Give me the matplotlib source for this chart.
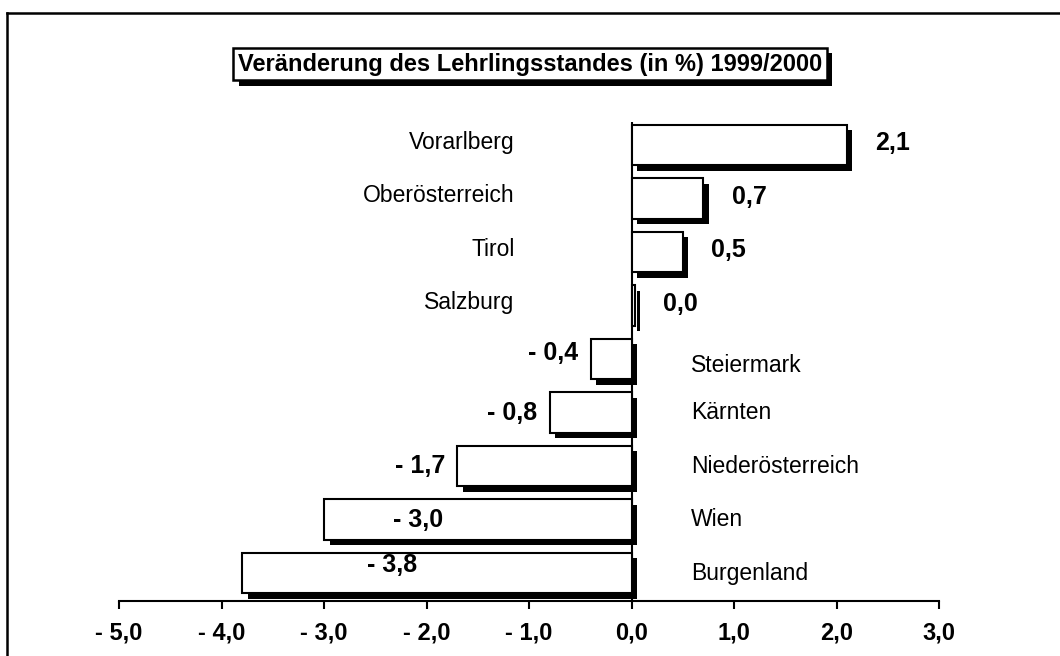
import matplotlib
matplotlib.use("Agg")
import matplotlib.pyplot as plt
import matplotlib.patheffects as pe
from matplotlib.lines import Line2D

# ---- data ----
regions = ["Vorarlberg", "Oberösterreich", "Tirol", "Salzburg", "Steiermark",
           "Kärnten", "Niederösterreich", "Wien", "Burgenland"]
values = [2.1, 0.7, 0.5, 0.03, -0.4, -0.8, -1.7, -3.0, -3.8]
value_labels = ["2,1", "0,7", "0,5", "0,0", "- 0,4", "- 0,8", "- 1,7", "- 3,0", "- 3,8"]
xticks = [-5, -4, -3, -2, -1, 0, 1, 2, 3]
xtick_labels = ["- 5,0", "- 4,0", "- 3,0", "- 2,0", "- 1,0", "0,0", "1,0", "2,0", "3,0"]
title = "Veränderung des Lehrlingsstandes (in %) 1999/2000"

plt.rcParams['font.family'] = ['Liberation Sans', 'DejaVu Sans']

fig = plt.figure(figsize=(10.6, 6.56), dpi=100)
ax = fig.add_axes([119/1060, 1 - 601/656, 820/1060, (601 - 122)/656])

n = len(regions)
ypos = [n - 1 - i for i in range(n)]

shadow = [pe.SimplePatchShadow(offset=(4, -4), shadow_rgbFace='black', alpha=1.0), pe.Normal()]
bars = ax.barh(ypos, values, height=0.76, color='white', edgecolor='black', linewidth=1.5, zorder=3)
for b in bars:
    b.set_path_effects(shadow)

ax.axvline(0, color='black', linewidth=1.5, zorder=2)

# inside-bar label right edges for long negative bars
inside_right = {"Wien": -1.84, "Burgenland": -2.09}
label_dy = {"Steiermark": 0.12, "Burgenland": 0.15}

VAL_FS = 18
CAT_FS = 16.5

for name, v, lab, y in zip(regions, values, value_labels, ypos):
    dy = label_dy.get(name, 0.0)
    if v >= 0:
        ax.text(v + 0.28, y + 0.03, lab, ha='left', va='center', fontsize=VAL_FS, fontweight='bold', zorder=5)
        ax.text(-1.14, y + 0.05, name, ha='right', va='center', fontsize=CAT_FS, zorder=5)
    else:
        if name in inside_right:
            ax.text(inside_right[name], y + dy, lab, ha='right', va='center', fontsize=VAL_FS, fontweight='bold', zorder=5)
        else:
            ax.text(v - 0.12, y + dy, lab, ha='right', va='center', fontsize=VAL_FS, fontweight='bold', zorder=5)
        ax.text(0.58, y - (0.12 if name == "Steiermark" else 0.0), name, ha='left', va='center', fontsize=CAT_FS, zorder=5)

ax.set_xlim(-5, 3)
ax.set_ylim(-0.523, 8.43)
ax.set_xticks(xticks)
ax.set_xticklabels(xtick_labels, fontsize=17, fontweight='bold')
ax.set_yticks([])
for s in ['left', 'right', 'top']:
    ax.spines[s].set_visible(False)
ax.spines['bottom'].set_linewidth(1.5)
ax.tick_params(axis='x', direction='out', length=6, width=1.5, pad=9)
ax.patch.set_visible(False)

# title box with shadow
t = fig.text(530/1060, 1 - 64/656, title, ha='center', va='center', fontsize=17, fontweight='bold',
             bbox=dict(boxstyle='square,pad=0.2', fc='white', ec='black', lw=1.8))
t.get_bbox_patch().set_path_effects([pe.SimplePatchShadow(offset=(4, -4), shadow_rgbFace='black', alpha=1.0), pe.Normal()])

# outer frame (top and left only, cropped elsewhere)
fig.add_artist(Line2D([7/1060, 1.0], [1 - 13/656, 1 - 13/656], transform=fig.transFigure, color='black', lw=1.8))
fig.add_artist(Line2D([7/1060, 7/1060], [0.0, 1 - 13/656], transform=fig.transFigure, color='black', lw=1.8))

fig.savefig("out.png", dpi=100)
